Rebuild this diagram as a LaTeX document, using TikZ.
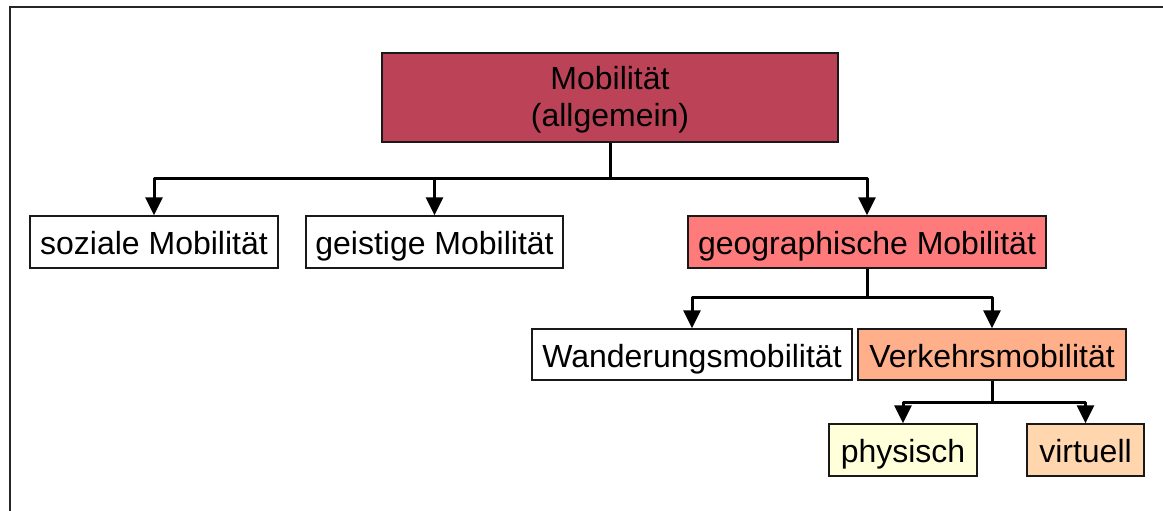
\documentclass[tikz,border=0pt]{standalone}
\usepackage{fontspec}
\setmainfont{Liberation Sans}
\usetikzlibrary{arrows.meta}
\definecolor{cmob}{HTML}{BC4357}
\definecolor{cgeo}{HTML}{FF7B7B}
\definecolor{cverk}{HTML}{FFB08A}
\definecolor{cphys}{HTML}{FFFFDA}
\definecolor{cvirt}{HTML}{FFD6AE}
\begin{document}
\begin{tikzpicture}[x=1pt,y=-1pt,
  box/.style={draw=black!90,line width=1.4pt,inner sep=0pt,
    font=\fontsize{32}{38}\selectfont,text height=29pt,text depth=4pt},
  txt/.style={inner sep=0pt,font=\fontsize{32}{38}\selectfont,anchor=base},
  conn/.style={line width=3pt,line join=round,
    -{Triangle[length=18pt,width=17pt]}},
  stem/.style={line width=3pt,line join=round}]
\useasboundingbox (0,0) rectangle (1163,511);
\draw[line width=2.5pt,black!85] (10,511) -- (10,7) -- (1163,7);
\node[box,fill=cmob,minimum width=456pt,minimum height=89pt] (mob) at (610,97.5) {};
\node[txt] (mobt1) at (610,90) {Mobilität};
\node[txt] (mobt2) at (610,126) {(allgemein)};
\node[box,fill=white,minimum width=248pt,minimum height=52pt] (soz) at (154,242) {soziale Mobilität};
\node[box,fill=white,minimum width=257pt,minimum height=52pt] (geist) at (434.5,242) {geistige Mobilität};
\node[box,fill=cgeo,minimum width=358pt,minimum height=52pt] (geo) at (867,242) {geographische Mobilität};
\node[box,fill=white,minimum width=320pt,minimum height=51pt] (wand) at (692,354.5) {Wanderungsmobilität};
\node[box,fill=cverk,minimum width=268pt,minimum height=51pt] (verk) at (992,354.5) {Verkehrsmobilität};
\node[box,fill=cphys,minimum width=148pt,minimum height=52pt] (phys) at (903,450) {physisch};
\node[box,fill=cvirt,minimum width=117pt,minimum height=52pt] (virt) at (1085.5,450) {virtuell};
\coordinate (j1) at (610,178);
\coordinate (j2) at (867,297);
\coordinate (j3) at (992,402);
\draw[stem] (mob.south) -- (j1);
\draw[conn] (j1) -| (soz.north);
\draw[conn] (j1) -| (geist.north);
\draw[conn] (j1) -| (geo.north);
\draw[stem] (geo.south) -- (j2);
\draw[conn] (j2) -| (wand.north);
\draw[conn] (j2) -| (verk.north);
\draw[stem] (verk.south) -- (j3);
\draw[conn] (j3) -| (phys.north);
\draw[conn] (j3) -| (virt.north);
\end{tikzpicture}
\end{document}
